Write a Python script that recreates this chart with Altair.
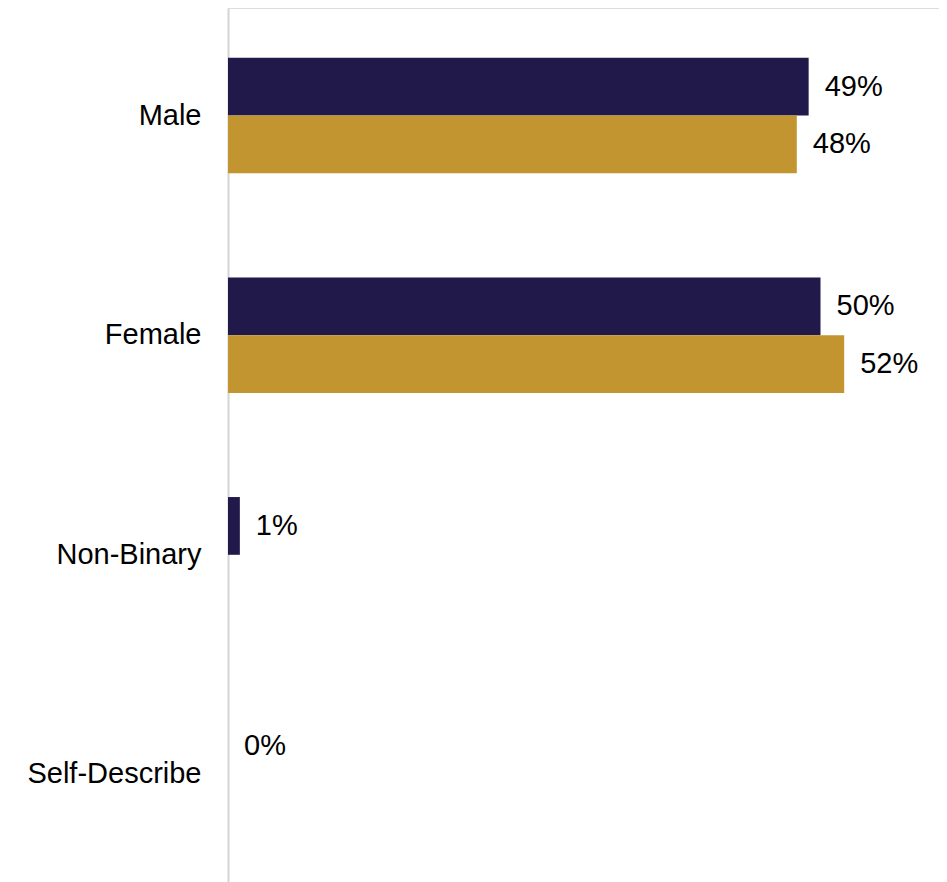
import altair as alt
import pandas as pd

categories = ["Male", "Female", "Non-Binary", "Self-Describe"]
series_names = ["Respondents", "Population"]
respondents = [49, 50, 1, 0]
population = [48, 52, None, None]
colors = ["#21194A", "#C29531"]

rows = []
for i, c in enumerate(categories):
    for s, vals in zip(series_names, [respondents, population]):
        v = vals[i]
        if v is None:
            continue
        rows.append({"category": c, "series": s, "value": v, "label": f"{v}%"})
df = pd.DataFrame(rows)

y_enc = alt.Y("category:N", sort=categories,
              scale=alt.Scale(paddingInner=0.474, paddingOuter=0.227),
              axis=alt.Axis(title=None, ticks=False, labelFontSize=29, labelFont="Liberation Sans",
                            labelColor="#000000", labelPadding=27, domainColor="#D4D4D4",
                            domainWidth=2, labelLimit=400))
yoff = alt.YOffset("series:N", sort=series_names, scale=alt.Scale(paddingInner=0, paddingOuter=0))
x_enc = alt.X("value:Q", scale=alt.Scale(domain=[0, 60], nice=False), axis=None)

bars = alt.Chart(df).mark_bar().encode(
    y=y_enc, yOffset=yoff, x=x_enc,
    color=alt.Color("series:N", sort=series_names,
                    scale=alt.Scale(domain=series_names, range=colors), legend=None),
)
text = alt.Chart(df).mark_text(align="left", baseline="middle", dx=16, fontSize=29,
                               font="Liberation Sans", color="#000000").encode(
    y=y_enc, yOffset=yoff, x=x_enc, text="label:N")

chart = (bars + text).properties(
    width=711, height=874,
    padding={"left": 18, "top": 0, "right": 0, "bottom": 0},
).configure_view(stroke=None).configure(background="#FFFFFF")

chart.save("out.html", embed_options={"renderer": "svg", "actions": False})
